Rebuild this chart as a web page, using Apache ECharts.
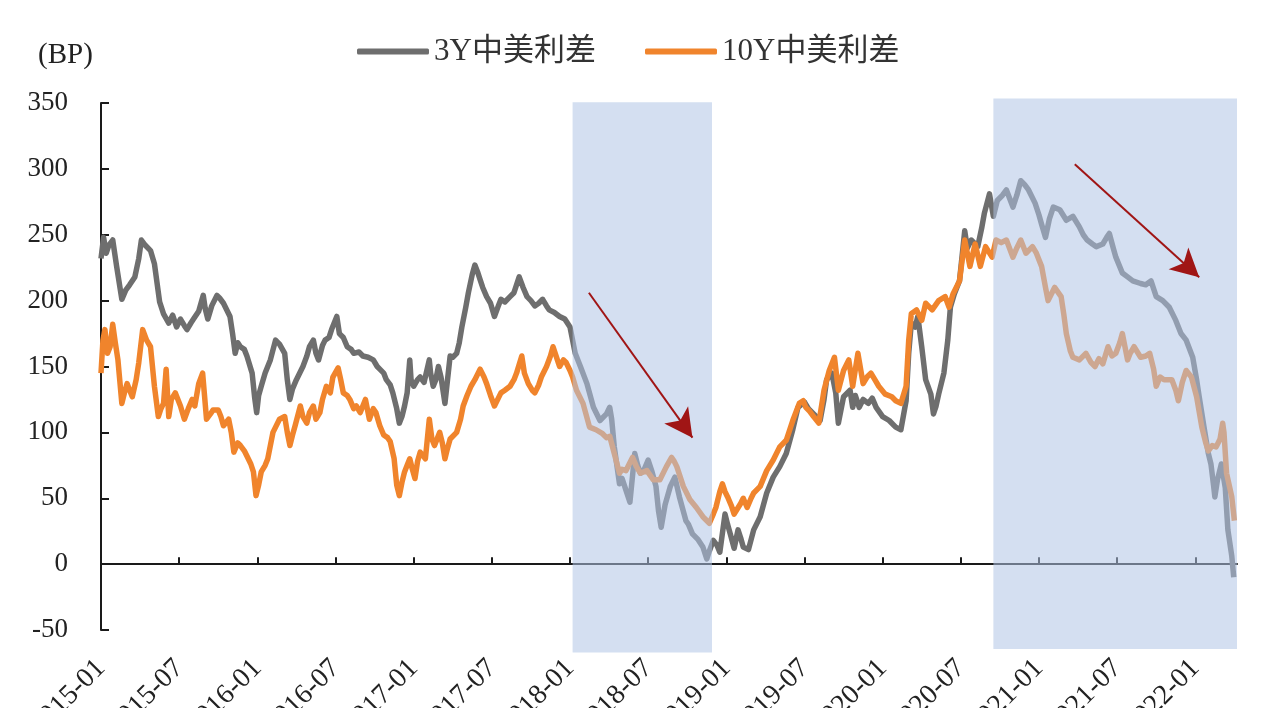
<!DOCTYPE html>
<html>
<head>
<meta charset="utf-8">
<script src="https://cdn.jsdelivr.net/npm/echarts@6/dist/echarts.min.js"></script>
<style>
html,body{margin:0;padding:0;background:#ffffff;}
#chart{width:1281px;height:708px;}
</style>
</head>
<body>
<div id="chart"></div>
<script>
// x values: months elapsed since 2015-01 (0 = 2015-01, 6 = 2015-07, ...)
const tickMonths = [0, 6, 12, 18, 24, 30, 36, 42, 48, 54, 60, 66, 72, 78, 84];
const tickLabels = ['2015-01','2015-07','2016-01','2016-07','2017-01','2017-07','2018-01','2018-07','2019-01','2019-07','2020-01','2020-07','2021-01','2021-07','2022-01'];
const axisEndMonth = 87.2;

const seriesNames = ['3Y中美利差', '10Y中美利差'];

const spread3yX = [0,0.2,0.4,0.6,0.9,1.2,1.6,1.9,2.2,2.6,2.9,3.1,3.4,3.8,4.1,4.5,4.8,5.2,5.5,5.8,6.1,6.4,6.6,6.9,7.1,7.5,7.85,8.0,8.2,8.5,8.9,9.1,9.4,9.9,10.1,10.3,10.5,10.7,11.0,11.2,11.6,11.8,11.95,12.1,12.3,12.6,13.0,13.4,13.7,14.1,14.3,14.5,14.7,15.0,15.5,15.8,16.0,16.3,16.5,16.7,17.0,17.2,17.5,17.7,18.1,18.3,18.6,18.9,19.2,19.4,19.8,20.1,20.5,20.9,21.2,21.4,21.7,21.9,22.2,22.4,22.7,22.9,23.1,23.3,23.5,23.7,23.8,24.0,24.3,24.5,24.8,25.2,25.3,25.5,25.7,25.9,26.1,26.4,26.6,26.8,27.0,27.3,27.5,27.7,28.0,28.2,28.5,28.7,28.9,29.1,29.3,29.6,29.9,30.2,30.5,30.7,31.0,31.4,31.7,32.1,32.4,32.7,33.0,33.3,33.6,33.9,34.2,34.4,34.8,35.2,35.6,36.0,36.4,36.8,37.3,37.8,38.3,38.8,39.05,39.2,39.4,39.8,40.0,40.3,40.6,40.97,41.2,41.4,41.7,42.0,42.3,42.6,42.8,43.0,43.3,43.7,44.05,44.4,44.9,45.1,45.4,45.8,46.2,46.5,46.7,47.0,47.3,47.5,47.9,48.1,48.3,48.6,48.9,49.1,49.3,49.7,50.1,50.6,51.1,51.6,52.1,52.6,53.1,53.5,54.0,54.3,54.7,55.2,55.5,55.7,56.1,56.4,56.6,57.0,57.5,57.7,57.9,58.2,58.5,58.9,59.2,59.5,60.0,60.5,61.0,61.4,61.8,62.0,62.2,62.5,62.7,63.0,63.3,63.7,63.9,64.1,64.3,64.7,65.0,65.2,65.5,65.9,66.3,66.5,66.8,67.3,67.6,67.8,68.2,68.5,68.8,69.2,69.5,70.0,70.3,70.6,70.9,71.2,71.7,72.0,72.2,72.5,72.8,73.1,73.6,74.1,74.6,75.1,75.4,75.7,76.1,76.4,76.9,77.2,77.4,77.7,77.9,78.4,78.8,79.2,79.8,80.2,80.6,81.0,81.5,82.0,82.5,82.9,83.3,83.8,84.1,84.3,84.7,85.0,85.2,85.4,85.5,85.7,86.0,86.3,86.5,86.8,86.95];
const spread3yY = [232,248,236,242,246,226,201,208,212,218,232,246,242,238,228,199,190,183,189,180,186,181,178,183,186,192,204,194,186,196,204,202,198,188,175,160,168,165,163,158,145,126,115,128,135,145,155,170,167,160,140,125,133,140,150,158,165,170,160,155,166,170,172,178,188,175,172,165,163,160,161,158,157,155,150,148,145,140,136,130,118,107,112,120,130,155,140,135,140,142,138,155,145,135,140,150,142,122,140,158,157,160,168,180,195,206,220,227,222,216,210,203,198,188,196,201,199,203,206,218,210,203,200,196,198,201,196,193,191,188,186,180,160,150,137,119,109,114,119,110,89,61,65,56,47,84,75,69,72,79,70,59,40,28,45,59,66,51,33,30,23,19,13,4,10,18,14,9,38,30,23,12,26,20,13,11,26,36,54,66,74,84,102,119,123,118,114,109,125,140,145,130,107,127,132,119,128,119,125,122,126,119,112,109,104,102,124,160,183,180,188,165,140,129,114,120,129,145,170,195,205,215,253,240,246,241,255,266,281,264,276,280,284,271,280,291,288,284,274,265,258,248,262,271,269,261,264,256,250,246,243,241,243,248,251,240,233,221,218,215,213,212,215,203,200,195,185,175,170,157,140,127,102,84,76,60,51,64,76,58,26,6,-10];

const spread10yX = [0,0.15,0.3,0.5,0.7,0.9,1.1,1.3,1.6,1.8,2.0,2.4,2.7,2.9,3.2,3.5,3.8,4.1,4.4,4.6,4.8,5.0,5.2,5.4,5.7,6.1,6.4,6.7,7.0,7.2,7.5,7.8,8.1,8.4,8.6,9.0,9.2,9.4,9.8,10.0,10.2,10.5,10.7,11.0,11.2,11.5,11.7,11.9,12.1,12.3,12.6,12.8,13.2,13.4,13.7,14.1,14.3,14.5,14.7,14.9,15.3,15.5,15.8,16.0,16.3,16.5,16.8,17.0,17.3,17.6,17.8,18.2,18.4,18.6,18.9,19.1,19.4,19.6,19.9,20.3,20.6,20.9,21.1,21.4,21.7,22.0,22.2,22.5,22.7,22.9,23.1,23.3,23.5,23.7,23.9,24.1,24.3,24.5,24.9,25.2,25.4,25.6,26.0,26.2,26.4,26.6,26.8,27.3,27.6,27.8,28.1,28.4,28.7,29.1,29.4,29.6,29.9,30.2,30.5,30.7,31.0,31.4,31.7,31.9,32.3,32.5,32.8,33.1,33.3,33.6,33.8,34.2,34.5,34.7,35.0,35.2,35.5,35.7,36.0,36.2,36.5,37.0,37.5,38.0,38.5,38.8,39.05,39.4,39.8,40.0,40.3,40.5,40.8,41.1,41.4,41.9,42.4,42.9,43.2,43.4,43.8,44.0,44.2,44.7,45.2,45.7,46.2,46.7,47.0,47.2,47.5,47.7,47.9,48.1,48.4,48.6,49.1,49.3,49.6,49.9,50.1,50.6,51.1,51.6,52.1,52.6,53.1,53.6,53.9,54.1,54.4,54.7,55.1,55.5,55.9,56.3,56.6,57.0,57.4,57.7,58.1,58.5,58.8,59.1,59.4,59.7,60.2,60.7,61.0,61.4,61.8,62.0,62.2,62.6,63.0,63.3,63.8,64.3,64.8,65.1,65.4,65.9,66.3,66.7,67.1,67.5,67.9,68.4,68.7,69.1,69.5,70.0,70.3,70.6,71.0,71.5,71.8,72.2,72.5,72.7,73.0,73.2,73.7,73.9,74.1,74.4,74.6,75.1,75.6,76.0,76.3,76.6,76.9,77.3,77.6,77.9,78.2,78.4,78.6,78.8,79.0,79.3,79.8,80.2,80.5,80.8,81.0,81.3,81.6,82.2,82.5,82.7,83.0,83.3,83.7,84.1,84.5,84.8,85.0,85.3,85.6,85.9,86.1,86.2,86.4,86.6,86.8,87.0];
const spread10yY = [145,170,178,160,165,182,168,155,122,130,137,127,140,153,178,170,165,135,112,118,122,148,112,125,130,120,110,118,125,120,137,145,110,114,117,117,112,105,110,100,85,92,90,86,82,76,70,52,60,70,75,80,100,104,110,112,100,90,98,105,120,112,107,115,120,110,115,125,135,130,142,149,140,130,128,125,118,120,115,125,110,118,115,105,98,96,93,80,60,52,62,70,75,80,72,65,78,85,80,110,95,90,100,92,80,88,95,100,110,120,128,135,140,148,142,137,128,120,126,130,132,135,140,145,158,145,137,132,130,136,142,150,158,165,156,150,155,153,147,142,132,122,104,102,99,96,97,84,69,72,71,75,81,74,69,71,64,64,70,74,81,78,74,59,49,43,36,31,38,43,55,61,55,51,44,38,46,50,43,50,54,59,71,79,89,94,109,122,124,119,116,112,107,132,147,157,132,147,155,135,160,137,142,145,140,135,129,127,124,122,135,170,190,193,185,198,193,200,203,195,205,215,246,226,243,226,241,233,246,244,246,233,240,246,236,241,236,226,210,200,206,210,203,190,175,162,157,155,160,153,150,156,152,165,158,160,168,175,165,155,160,165,157,158,160,148,135,142,140,140,132,124,138,147,142,127,104,92,86,90,89,95,107,100,69,60,51,33];

// shaded periods [startMonth, endMonth, topBP, bottomBP]
const shadePeriods = [[36.2, 46.9, 350.5, -67], [68.5, 87.2, 353.5, -64.5]];
// trend arrows [[startMonth, startBP], [endMonth, endBP]]
const trendArrows = [[[37.45, 206], [45.4, 96]], [[74.75, 303.5], [84.3, 217.8]]];

const FONT = "'Liberation Serif', 'Noto Sans CJK SC', serif";

const chart = echarts.init(document.getElementById('chart'), null, {renderer: 'canvas'});

const toPairs = (xs, ys) => xs.map((x, i) => [x, ys[i]]);
const labelFor = v => {
  const i = Math.round(Number(v) / 6);
  return (Math.abs(Number(v) - i * 6) < 0.01 && tickLabels[i]) ? tickLabels[i] : '';
};

const option = {
  animation: false,
  backgroundColor: '#ffffff',
  textStyle: {fontFamily: FONT},
  grid: {left: 101, right: 44, top: 103, bottom: 78, containLabel: false, outerBoundsMode: 'none'},
  legend: [
    {data: [seriesNames[0]], left: 352, top: 31, itemWidth: 72, itemHeight: 6, icon: 'roundRect',
     textStyle: {fontFamily: FONT, fontSize: 31, color: '#333333'}},
    {data: [seriesNames[1]], left: 640, top: 31, itemWidth: 72, itemHeight: 6, icon: 'roundRect',
     textStyle: {fontFamily: FONT, fontSize: 31, color: '#333333'}}
  ],
  graphic: [{
    type: 'text', left: 38, top: 41,
    style: {text: '(BP)', font: "29px 'Liberation Serif', serif", fill: '#222222'}
  }],
  xAxis: [
    {
      // bottom axis: carries the date labels only
      type: 'value', min: 0, max: axisEndMonth, position: 'bottom',
      splitLine: {show: false},
      axisLine: {show: false, onZero: false},
      axisTick: {show: false},
      axisLabel: {
        show: true, interval: 0, rotate: 45, margin: 34,
        showMinLabel: true, showMaxLabel: true, hideOverlap: false,
        customValues: tickMonths,
        fontFamily: FONT, fontSize: 28, color: '#222222',
        formatter: labelFor
      }
    },
    {
      // zero line with inward ticks
      type: 'value', min: 0, max: axisEndMonth, position: 'bottom',
      splitLine: {show: false},
      axisLine: {show: true, onZero: true, lineStyle: {color: '#1a1a1a', width: 2}},
      axisTick: {show: true, inside: true, length: 7, lineStyle: {color: '#1a1a1a', width: 2}, customValues: tickMonths},
      axisLabel: {show: false}
    }
  ],
  yAxis: {
    type: 'value', min: -50, max: 350, interval: 50,
    splitLine: {show: false},
    axisLine: {show: true, onZero: false, lineStyle: {color: '#1a1a1a', width: 2}},
    axisTick: {show: true, inside: true, length: 8, lineStyle: {color: '#1a1a1a', width: 2}},
    axisLabel: {margin: 33, fontFamily: FONT, fontSize: 27, color: '#222222'}
  },
  series: [
    {
      name: seriesNames[0], type: 'line', symbol: 'none', z: 2, xAxisIndex: 0,
      color: '#6e6e6e',
      lineStyle: {color: '#6e6e6e', width: 5.5, join: 'round'},
      data: toPairs(spread3yX, spread3yY)
    },
    {
      name: seriesNames[1], type: 'line', symbol: 'none', z: 3, xAxisIndex: 0,
      color: '#f0842c',
      lineStyle: {color: '#f0842c', width: 5.5, join: 'round'},
      data: toPairs(spread10yX, spread10yY)
    },
    {
      name: 'shade', type: 'custom', z: 10, clip: false, xAxisIndex: 0, silent: true,
      encode: {x: [0, 1], y: [2, 3]},
      data: shadePeriods,
      renderItem: (params, api) => {
        const p1 = api.coord([api.value(0), api.value(2)]);
        const p2 = api.coord([api.value(1), api.value(3)]);
        return {
          type: 'rect',
          shape: {x: p1[0], y: p1[1], width: p2[0] - p1[0], height: p2[1] - p1[1]},
          style: {fill: 'rgba(176,196,229,0.55)'}
        };
      },
      markLine: {
        silent: true, z: 11, symbol: ['none', 'arrow'], symbolSize: [22, 28],
        label: {show: false},
        lineStyle: {color: '#a01515', width: 2, type: 'solid'},
        data: trendArrows.map(a => [{coord: a[0]}, {coord: a[1]}])
      }
    }
  ]
};
chart.setOption(option);
</script>
</body>
</html>
